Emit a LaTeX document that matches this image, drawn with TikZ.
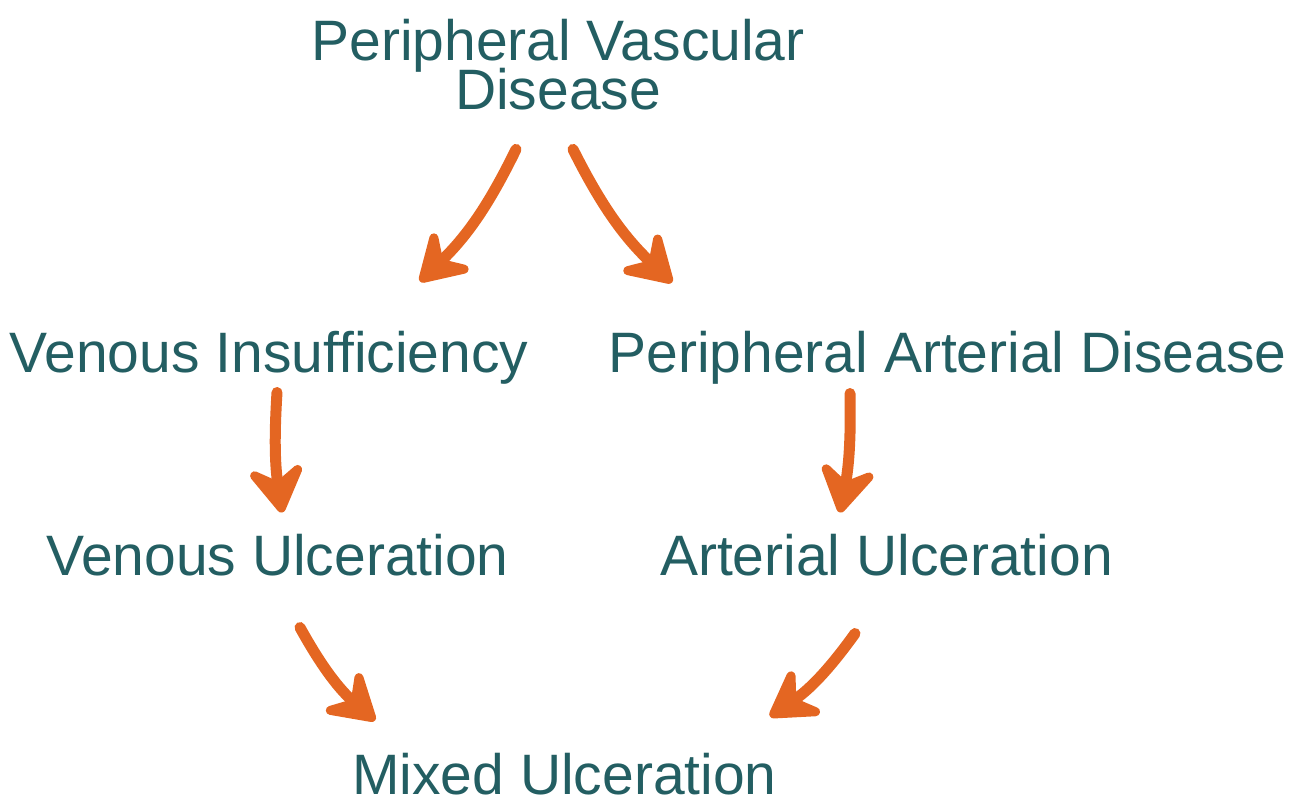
\documentclass[tikz,border=0pt]{standalone}
\usepackage{fontspec}
\setmainfont{Liberation Sans}
\usepackage{xcolor}
\usetikzlibrary{arrows.meta}
\definecolor{tealtext}{HTML}{235E62}
\definecolor{arroworange}{HTML}{E46622}
\newcommand\tightlines{\fontsize{57}{49}\selectfont\lineskiplimit=-100pt\lineskip=0pt\relax}

\begin{document}
\begin{tikzpicture}[x=1pt,y=1pt,line width=11pt,
    disease/.style={text=tealtext, font=\fontsize{57}{49}\selectfont, inner sep=0pt,
        text height=41pt, text depth=12pt, anchor=base},
    flow/.style={draw=arroworange, line cap=round,
        -{Stealth[length=58pt,width=70pt,inset=22pt,round]}}]
    \useasboundingbox (0,0) rectangle (1303,796);

    \node[text=tealtext, font=\tightlines, inner sep=0pt,
        align=center, anchor=north] (pvd) at (558,782) {Peripheral Vascular\\Disease};
    \node[disease] (vi) at (269,423) {Venous Insufficiency};
    \node[disease] (pad) at (947.5,423) {Peripheral Arterial Disease};
    \node[disease] (vu) at (277.5,221) {Venous Ulceration};
    \node[disease] (au) at (886.5,221) {Arterial Ulceration};
    \node[disease] (mu) at (564.5,2) {Mixed Ulceration};

    \draw[flow] ([shift={(-42,-33.5)}]pvd.south) to[bend left=10] ([shift={(151,45)}]vi.north);
    \draw[flow] ([shift={(15,-33.5)}]pvd.south) to[bend right=10] ([shift={(-275.5,44)}]pad.north);
    \draw[flow] ([shift={(8,-2)}]vi.south) to[bend right=6] ([shift={(4.5,16)}]vu.north);
    \draw[flow] ([shift={(-97.5,-3)}]pad.south) to[bend left=6] ([shift={(-46.5,16)}]au.north);
    \draw[flow] ([shift={(22.5,-35)}]vu.south) to[bend right=10] ([shift={(-189.5,27)}]mu.north);
    \draw[flow] ([shift={(-31.5,-41)}]au.south) to[bend left=10] ([shift={(205.5,31)}]mu.north);
\end{tikzpicture}
\end{document}
